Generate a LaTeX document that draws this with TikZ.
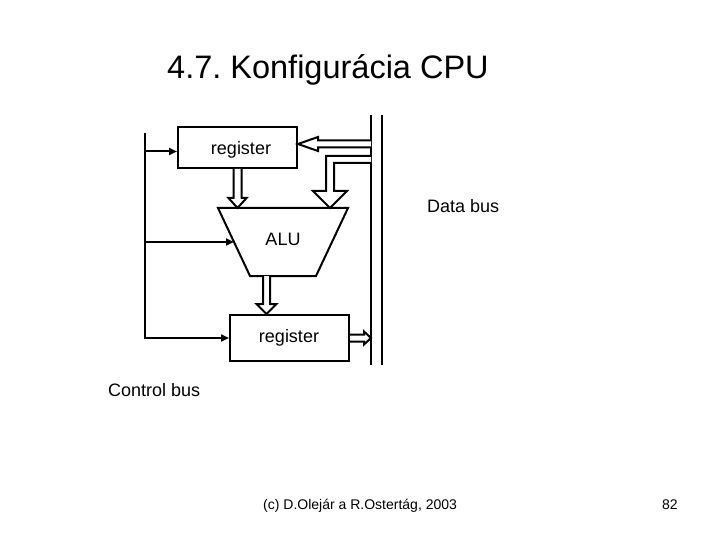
\documentclass[tikz,border=0pt]{standalone}
\usepackage{fontspec}
\setmainfont{Liberation Sans}
\usetikzlibrary{arrows.meta,calc}
\frenchspacing
\tikzset{
  ln/.style={line width=2pt},
  regbox/.style={draw, line width=2pt, minimum width=119pt, inner sep=0pt},
  txt/.style={inner sep=0pt, font=\fontsize{18}{21}\selectfont},
  ctl/.style={line width=2pt, -{Triangle[length=8pt,width=7pt]}},
  hollow/.style={draw, line width=2pt, fill=white, line join=miter},
}
\begin{document}
\begin{tikzpicture}[x=1pt,y=-1pt]
\useasboundingbox (0,0) rectangle (720,540);
% title
\node[inner sep=0pt, anchor=base west, font=\fontsize{32.5}{38}\selectfont] (title) at (167,79) {4.7. Konfigurácia CPU};
% registers
\node[regbox, minimum height=41pt] (r1) at (237.5,147.5) {};
\node[txt, anchor=base] (r1t) at (241,155) {register};
\node[regbox, minimum height=46pt] (r2) at (289.5,338) {};
\node[txt, anchor=base] (r2t) at (289,342) {register};
% ALU
\coordinate (aluTL) at (218,208);
\coordinate (aluTR) at (348,208);
\coordinate (aluBR) at (316,276);
\coordinate (aluBL) at (250,276);
\draw[ln, line join=miter] (aluTL) -- (aluTR) -- (aluBR) -- (aluBL) -- cycle;
\coordinate (aluL) at ($(aluTL)!0.5!(aluBL)$);
\node[txt, anchor=base] (alu) at (283,245) {ALU};
% data bus
\coordinate (b1t) at (371,115);
\coordinate (b1b) at (371,365);
\coordinate (b2t) at (382,115);
\coordinate (b2b) at (382,365);
\draw[ln] (b1t) -- (b1b);
\draw[ln] (b2t) -- (b2b);
\node[txt, anchor=base west] (db) at (427,212) {Data bus};
% control bus
\coordinate (ct) at (145,133);
\draw[ctl] (ct) |- (r2.west);
\coordinate (c1) at ($(r1.west)+(0,4)$);
\draw[ctl] (ct |- c1) -- (c1);
\draw[ctl] (ct |- aluL) -- (aluL);
\node[txt, anchor=base west] (cb) at (108,396) {Control bus};
% hollow arrow: bus -> top register
\coordinate (h1) at ($(r1.east)+(0,-3.5)$);
\draw[hollow] let \p1=(h1), \p2=(b1t) in
  (\x2,\y1+3.5pt) -- (\x1+20pt,\y1+3.5pt) -- (\x1+20pt,\y1+7pt) -- (\x1,\y1)
  -- (\x1+20pt,\y1-7pt) -- (\x1+20pt,\y1-3.5pt) -- (\x2,\y1-3.5pt);
% hollow arrow: bus -> ALU top
\coordinate (h2) at (aluTL -| 330,0);
\coordinate (h2s) at (371,159.5);
\draw[hollow] let \p1=(h2), \p2=(h2s) in
  (\x2,\y2+3.5pt) -- (\x1-4pt,\y2+3.5pt) -- (\x1-4pt,\y1+17pt) -- (\x1-17pt,\y1+17pt)
  -- (\x1,\y1) -- (\x1+17pt,\y1+17pt) -- (\x1+4pt,\y1+17pt) -- (\x1+4pt,\y2-3.5pt) -- (\x2,\y2-3.5pt);
% hollow arrow: top register -> ALU
\coordinate (h3) at (r1.south |- aluTL);
\draw[hollow] let \p1=(r1.south), \p2=(h3) in
  (\x2-4pt,\y1) -- (\x2-4pt,\y2+10pt) -- (\x2-9pt,\y2+10pt) -- (\x2,\y2)
  -- (\x2+9pt,\y2+10pt) -- (\x2+4pt,\y2+10pt) -- (\x2+4pt,\y1);
% hollow arrow: ALU -> bottom register
\coordinate (h4s) at (266.5,276);
\coordinate (h4) at (h4s |- r2.north);
\draw[hollow] let \p1=(h4s), \p2=(h4) in
  (\x2-3.5pt,\y1) -- (\x2-3.5pt,\y2+10pt) -- (\x2-10pt,\y2+10pt) -- (\x2,\y2)
  -- (\x2+10pt,\y2+10pt) -- (\x2+3.5pt,\y2+10pt) -- (\x2+3.5pt,\y1);
% hollow arrow: bottom register -> bus
\coordinate (h5) at (b1t |- r2.east);
\draw[hollow] let \p1=(r2.east), \p2=(h5) in
  (\x1,\y2+3.5pt) -- (\x2-7pt,\y2+3.5pt) -- (\x2-7pt,\y2+6.5pt) -- (\x2,\y2)
  -- (\x2-7pt,\y2-6.5pt) -- (\x2-7pt,\y2-3.5pt) -- (\x1,\y2-3.5pt);
% footer
\node[inner sep=0pt, anchor=base west, font=\fontsize{14}{17}\selectfont] (foot) at (263,509) {(c) D.Olejár a R.Ostertág, 2003};
\node[inner sep=0pt, anchor=base west, font=\fontsize{14}{17}\selectfont] (page) at (662,509) {82};
\end{tikzpicture}
\end{document}
